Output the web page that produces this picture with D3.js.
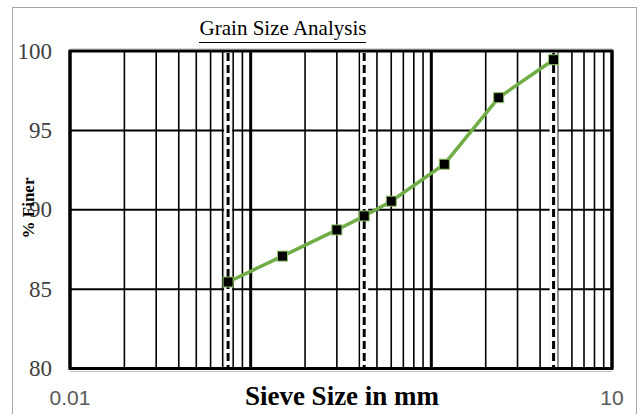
<!DOCTYPE html>
<html>
<head>
<meta charset="utf-8">
<script src="https://cdn.jsdelivr.net/npm/d3@7"></script>
<style>
  body { margin: 0; background: #fff; }
  svg { display: block; }
</style>
</head>
<body>
<svg width="641" height="414"></svg>
<script>
// sieve analysis readings
let sieveSizes = [0.075, 0.15, 0.3, 0.425, 0.6, 1.18, 2.36, 4.75];
let percentFiner = [85.45, 87.08, 88.73, 89.61, 90.54, 92.87, 97.06, 99.45];
// dashed reference sieves (#200, #40, #4)
let refSieves = [0.075, 0.425, 4.75];
let yTicks = [80, 85, 90, 95, 100];
let xTickLabels = [0.01, 10];
let decades = [0.01, 0.1, 1];

let svg = d3.select("svg");
let plotL = 70, plotR = 612, plotT = 51, plotB = 368.5;

let x = d3.scaleLog().domain([0.01, 10]).range([plotL, plotR]);
let y = d3.scaleLinear().domain([80, 100]).range([plotB, plotT]);

// outer chart border
svg.append("rect")
  .attr("x", 12.5).attr("y", 7.5)
  .attr("width", 624).attr("height", 410)
  .attr("fill", "none")
  .attr("stroke", "#a6a6a6")
  .attr("stroke-width", 1);

// title
svg.append("text")
  .attr("x", 283).attr("y", 35)
  .attr("text-anchor", "middle")
  .attr("font-family", "Liberation Serif, serif")
  .attr("font-size", 21)
  .attr("fill", "#000")
  .text("Grain Size Analysis");
svg.append("line")
  .attr("x1", 199).attr("x2", 366)
  .attr("y1", 42.5).attr("y2", 42.5)
  .attr("stroke", "#000").attr("stroke-width", 1);

// vertical grid: every 1..9 of each decade
let gridVals = [];
decades.forEach(d => {
  for (let k = 1; k <= 9; k++) gridVals.push(d * k);
});
gridVals.push(10);

let grid = svg.append("g").attr("class", "grid");
grid.selectAll("line.v")
  .data(gridVals)
  .enter().append("line")
    .attr("class", "v")
    .attr("x1", d => x(d)).attr("x2", d => x(d))
    .attr("y1", plotT).attr("y2", plotB)
    .attr("stroke", "#000")
    .attr("stroke-width", (d, i) => i % 9 == 0 ? 3 : 1.6);

grid.selectAll("line.h")
  .data(yTicks.slice(1, -1))
  .enter().append("line")
    .attr("class", "h")
    .attr("x1", plotL).attr("x2", plotR)
    .attr("y1", d => y(d)).attr("y2", d => y(d))
    .attr("stroke", "#000")
    .attr("stroke-width", 2);

// faint gray axis lines just outside the plot
svg.append("line")
  .attr("x1", plotL).attr("x2", plotR)
  .attr("y1", 48.5).attr("y2", 48.5)
  .attr("stroke", "#d9d9d9").attr("stroke-width", 1);
svg.append("line")
  .attr("x1", plotL).attr("x2", plotR)
  .attr("y1", 371.5).attr("y2", 371.5)
  .attr("stroke", "#bfbfbf").attr("stroke-width", 1);

// dashed reference lines
let refs = svg.append("g").attr("class", "refs");
refs.selectAll("line.halo")
  .data(refSieves)
  .enter().append("line")
    .attr("class", "halo")
    .attr("x1", d => x(d)).attr("x2", d => x(d))
    .attr("y1", plotT + 1).attr("y2", plotB - 1)
    .attr("stroke", "#e4e4e4").attr("stroke-width", 8);
refs.selectAll("line.white")
  .data(refSieves)
  .enter().append("line")
    .attr("class", "white")
    .attr("x1", d => x(d)).attr("x2", d => x(d))
    .attr("y1", plotT + 1).attr("y2", plotB - 1)
    .attr("stroke", "#fff").attr("stroke-width", 7);
refs.selectAll("line.dash")
  .data(refSieves)
  .enter().append("line")
    .attr("class", "dash")
    .attr("x1", d => x(d)).attr("x2", d => x(d))
    .attr("y1", plotT + 2).attr("y2", plotB - 1)
    .attr("stroke", "#000").attr("stroke-width", 3)
    .attr("stroke-dasharray", "8,4");

// plot border
svg.append("rect")
  .attr("x", plotL).attr("y", plotT)
  .attr("width", plotR - plotL).attr("height", plotB - plotT)
  .attr("fill", "none")
  .attr("stroke", "#000")
  .attr("stroke-width", 3);

// y tick labels
svg.append("g")
  .selectAll("text")
  .data(yTicks)
  .enter().append("text")
    .attr("x", 52)
    .attr("y", d => y(d))
    .attr("dy", "0.33em")
    .attr("text-anchor", "end")
    .attr("font-family", "Liberation Serif, serif")
    .attr("font-size", 23)
    .attr("fill", "#404040")
    .text(d => d);

// x tick labels (only the ends are labelled)
svg.append("g")
  .selectAll("text")
  .data(xTickLabels)
  .enter().append("text")
    .attr("x", d => x(d))
    .attr("y", 405)
    .attr("text-anchor", "middle")
    .attr("font-family", "Liberation Sans, sans-serif")
    .attr("font-size", 21)
    .attr("fill", "#595959")
    .text(d => d);

// axis titles
svg.append("text")
  .attr("x", 342).attr("y", 405)
  .attr("text-anchor", "middle")
  .attr("font-family", "Liberation Serif, serif")
  .attr("font-weight", "bold")
  .attr("font-size", 27)
  .attr("fill", "#000")
  .text("Sieve Size in mm");

svg.append("text")
  .attr("transform", "translate(34,208) rotate(-90)")
  .attr("text-anchor", "middle")
  .attr("font-family", "Liberation Serif, serif")
  .attr("font-weight", "bold")
  .attr("font-size", 17)
  .attr("fill", "#000")
  .text("% Finer");

// gradation curve
let points = sieveSizes.map((s, i) => [s, percentFiner[i]]);
let line = d3.line()
  .x(d => x(d[0]))
  .y(d => y(d[1]));

svg.append("path")
  .datum(points)
  .attr("d", line)
  .attr("fill", "none")
  .attr("stroke", "#70ad47")
  .attr("stroke-width", 3.5);

svg.append("g")
  .selectAll("rect")
  .data(points)
  .enter().append("rect")
    .attr("x", d => x(d[0]) - 5)
    .attr("y", d => y(d[1]) - 5)
    .attr("width", 10).attr("height", 10)
    .attr("fill", "#000")
    .attr("stroke", "#8cc063")
    .attr("stroke-width", 1);
</script>
</body>
</html>
